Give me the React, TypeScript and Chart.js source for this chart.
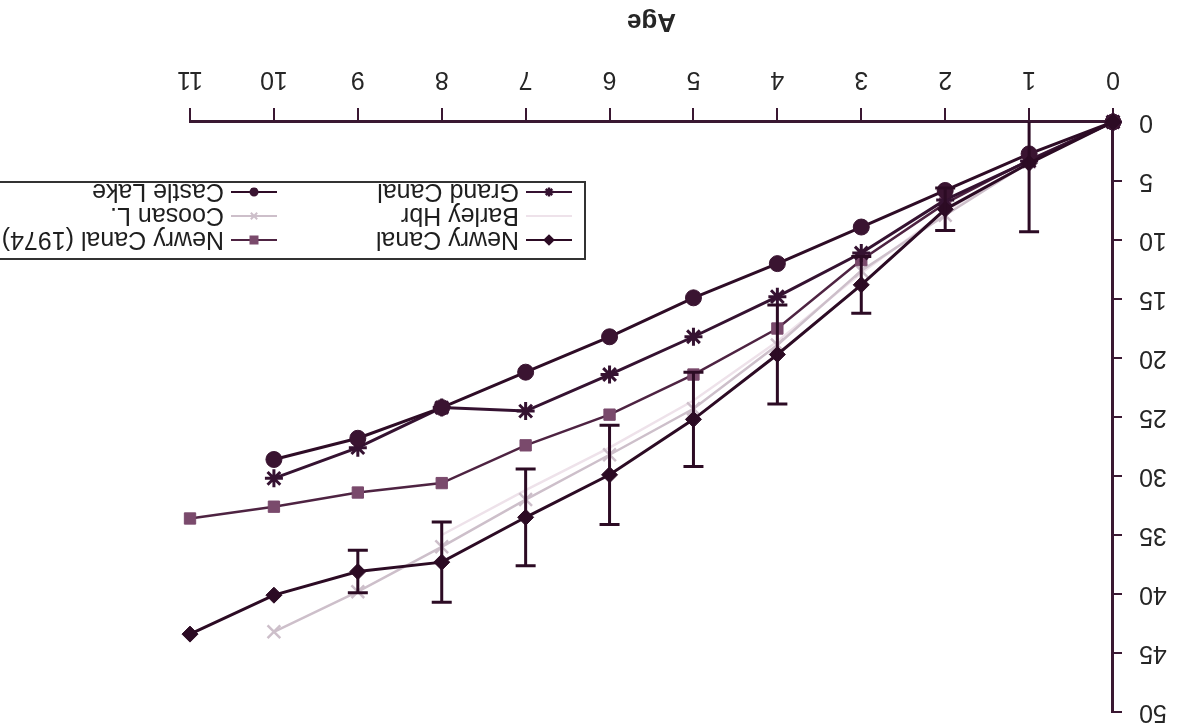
import React, { useEffect, useRef } from 'react';
import { Chart, registerables } from 'chart.js';

Chart.register(...registerables);

// ---------- data ----------
const AGES = [0, 1, 2, 3, 4, 5, 6, 7, 8, 9, 10, 11];

const NEWRY_CANAL = [0, 3.5, 7.4, 13.8, 19.7, 25.2, 29.9, 33.5, 37.3, 38.1, 40.1, 43.4];
const NEWRY_CANAL_ERR = [0, 5.8, 1.8, 2.4, 4.2, 4.0, 4.2, 4.1, 3.4, 1.8, null, null];
const BARLEY_HBR = [0, 3.3, 7.6, 12.8, 18.6, 23.6, 27.6, 31.2, 35.0, null, null, null];
const GRAND_CANAL = [0, 3.3, 6.6, 11.1, 14.8, 18.2, 21.4, 24.5, 24.2, 27.6, 30.2, null];
const NEWRY_CANAL_1974 = [0, 3.2, 6.9, 11.7, 17.5, 21.4, 24.8, 27.4, 30.6, 31.4, 32.6, 33.6];
const COOSAN_L = [0, 3.4, 7.9, 12.6, 18.9, 24.3, 28.2, 32.0, 36.0, 39.8, 43.2, null];
const CASTLE_LAKE = [0, 2.7, 5.8, 8.9, 12.0, 14.9, 18.2, 21.2, 24.2, 26.8, 28.6, null];

const LEGEND_COLUMNS = [
  ['Newry Canal', 'Barley Hbr', 'Grand Canal'],
  ['Newry Canal (1974)', 'Coosan L.', 'Castle Lake'],
];

const X_TITLE = 'Age';

// ---------- styles ----------
const AXIS = '#3a1832';
const DARK = '#2c0b24';
const FONT = "'Liberation Sans', Arial, sans-serif";

type Series = {
  label: string;
  values: (number | null)[];
  color: string;
  fill: string;
  width: number;
  style: string;
  radius: number;
  mlw: number;
};

const SERIES: Series[] = [
  { label: 'Newry Canal', values: NEWRY_CANAL, color: DARK, fill: DARK, width: 3, style: 'rectRot', radius: 8, mlw: 1 },
  { label: 'Castle Lake', values: CASTLE_LAKE, color: '#2e0c26', fill: '#3a1431', width: 3, style: 'circle', radius: 8, mlw: 1 },
  { label: 'Grand Canal', values: GRAND_CANAL, color: '#351231', fill: '#351231', width: 3, style: 'star', radius: 9, mlw: 3 },
  { label: 'Newry Canal (1974)', values: NEWRY_CANAL_1974, color: '#4e2342', fill: '#7a4a6c', width: 2.5, style: 'rect', radius: 8, mlw: 1 },
  { label: 'Coosan L.', values: COOSAN_L, color: '#cdbfca', fill: '#cdbfca', width: 2.5, style: 'crossRot', radius: 9, mlw: 2.5 },
  { label: 'Barley Hbr', values: BARLEY_HBR, color: '#eee2ea', fill: '#eee2ea', width: 2.5, style: 'circle', radius: 0, mlw: 0 },
];

function drawMarker(ctx: CanvasRenderingContext2D, s: Series, x: number, y: number, r: number) {
  if (r <= 0) return;
  ctx.save();
  ctx.fillStyle = s.fill;
  ctx.strokeStyle = s.color;
  ctx.lineWidth = Math.max(1.5, s.mlw * 0.8);
  ctx.beginPath();
  if (s.style === 'circle') {
    ctx.arc(x, y, r, 0, Math.PI * 2);
    ctx.fill();
  } else if (s.style === 'rect') {
    ctx.fillRect(x - r, y - r, 2 * r, 2 * r);
  } else if (s.style === 'rectRot') {
    ctx.moveTo(x, y - r * 1.3);
    ctx.lineTo(x + r * 1.3, y);
    ctx.lineTo(x, y + r * 1.3);
    ctx.lineTo(x - r * 1.3, y);
    ctx.closePath();
    ctx.fill();
  } else if (s.style === 'star' || s.style === 'crossRot') {
    const angles = s.style === 'star' ? [0, 45, 90, 135] : [45, 135];
    for (const a of angles) {
      const rad = (a * Math.PI) / 180;
      ctx.moveTo(x - Math.cos(rad) * r, y - Math.sin(rad) * r);
      ctx.lineTo(x + Math.cos(rad) * r, y + Math.sin(rad) * r);
    }
    ctx.stroke();
  }
  ctx.restore();
}

const errorBarPlugin = {
  id: 'errorBars',
  afterDatasetsDraw(chart: any) {
    const { ctx, chartArea, scales } = chart;
    const xs = scales.x;
    const ys = scales.y;
    ctx.save();
    ctx.beginPath();
    ctx.rect(chartArea.left, chartArea.top, chartArea.right - chartArea.left, chartArea.bottom - chartArea.top);
    ctx.clip();
    ctx.strokeStyle = DARK;
    ctx.lineWidth = 3;
    AGES.forEach((age, i) => {
      const e = NEWRY_CANAL_ERR[i];
      const v = NEWRY_CANAL[i];
      if (e == null || v == null || e === 0) return;
      const x = xs.getPixelForValue(age);
      const y1 = ys.getPixelForValue(v - e);
      const y2 = ys.getPixelForValue(v + e);
      ctx.beginPath();
      ctx.moveTo(x, y1);
      ctx.lineTo(x, y2);
      ctx.moveTo(x - 10, y1);
      ctx.lineTo(x + 10, y1);
      ctx.moveTo(x - 10, y2);
      ctx.lineTo(x + 10, y2);
      ctx.stroke();
    });
    ctx.restore();
  },
};

const legendPlugin = {
  id: 'boxLegend',
  afterDraw(chart: any) {
    const { ctx } = chart;
    const boxX = 595;
    const boxY = 467;
    const boxW = 640;
    const boxH = 77;
    ctx.save();
    ctx.fillStyle = '#ffffff';
    ctx.fillRect(boxX, boxY, boxW, boxH);
    ctx.strokeStyle = '#333';
    ctx.lineWidth = 2;
    ctx.strokeRect(boxX, boxY, boxW, boxH);
    const colSample = [608, 903];
    const sampleW = 46;
    const rowY = [486, 510, 534];
    ctx.font = `25px ${FONT}`;
    ctx.textBaseline = 'middle';
    ctx.fillStyle = '#1e1e1e';
    LEGEND_COLUMNS.forEach((col, ci) => {
      col.forEach((label, ri) => {
        const s = SERIES.find((d) => d.label === label)!;
        const x0 = colSample[ci];
        const y = rowY[ri];
        ctx.strokeStyle = s.color;
        ctx.lineWidth = Math.min(2, s.width);
        ctx.beginPath();
        ctx.moveTo(x0, y);
        ctx.lineTo(x0 + sampleW, y);
        ctx.stroke();
        drawMarker(ctx, s, x0 + sampleW / 2, y, s.radius > 0 ? 4.5 : 0);
        ctx.fillStyle = '#1e1e1e';
        ctx.fillText(label, x0 + sampleW + 7, y + 1);
      });
    });
    ctx.restore();
  },
};

export default function App() {
  const ref = useRef<HTMLCanvasElement>(null);

  useEffect(() => {
    if (!ref.current) return;
    const datasets = SERIES.map((s, idx) => ({
      label: s.label,
      data: AGES.map((a, i) => ({ x: a, y: s.values[i] })).filter((p) => p.y != null),
      borderColor: s.color,
      backgroundColor: s.fill,
      borderWidth: s.width,
      pointStyle: s.style as any,
      pointRadius: s.radius,
      pointBorderWidth: s.mlw,
      pointBorderColor: s.style === 'star' || s.style === 'crossRot' ? s.color : s.fill,
      pointBackgroundColor: s.fill,
      tension: 0,
      clip: false as any,
      order: idx,
    }));

    const chart = new Chart(ref.current, {
      type: 'line',
      data: { datasets },
      plugins: [errorBarPlugin, legendPlugin],
      options: {
        responsive: false,
        animation: false,
        devicePixelRatio: 1,
        layout: { padding: { left: 0, right: 190, top: 14, bottom: 0 } },
        plugins: { legend: { display: false }, tooltip: { enabled: false } },
        scales: {
          x: {
            type: 'linear',
            min: 0,
            max: 11,
            ticks: { stepSize: 1, color: '#262626', font: { family: FONT, size: 25 }, padding: 14 },
            grid: { display: true, drawOnChartArea: false, drawTicks: true, tickLength: 14, color: AXIS, lineWidth: 2 },
            border: { display: true, color: AXIS, width: 3 },
            title: {
              display: true,
              text: X_TITLE,
              color: '#262626',
              font: { family: FONT, size: 26, weight: 'bold' },
              padding: { top: 0, bottom: 6 },
            },
            afterFit: (s: any) => {
              s.height = 122;
              s.paddingLeft = 0;
              s.paddingRight = 0;
            },
          },
          y: {
            type: 'linear',
            min: 0,
            max: 50,
            ticks: { stepSize: 5, color: '#262626', font: { family: FONT, size: 25 }, padding: 17 },
            grid: { display: true, drawOnChartArea: false, drawTicks: true, tickLength: 9, color: AXIS, lineWidth: 2 },
            border: { display: true, color: AXIS, width: 3 },
            afterFit: (s: any) => {
              s.width = 67;
              s.paddingTop = 0;
              s.paddingBottom = 0;
            },
          },
        },
      },
    });
    return () => chart.destroy();
  }, []);

  return (
    <div
      style={{
        position: 'fixed',
        left: 0,
        top: 0,
        width: 1180,
        height: 726,
        background: '#ffffff',
        overflow: 'hidden',
      }}
    >
      <div style={{ width: 1180, height: 726, transform: 'rotate(180deg)' }}>
        <canvas ref={ref} width={1180} height={726} style={{ display: 'block', width: 1180, height: 726 }} />
      </div>
    </div>
  );
}
